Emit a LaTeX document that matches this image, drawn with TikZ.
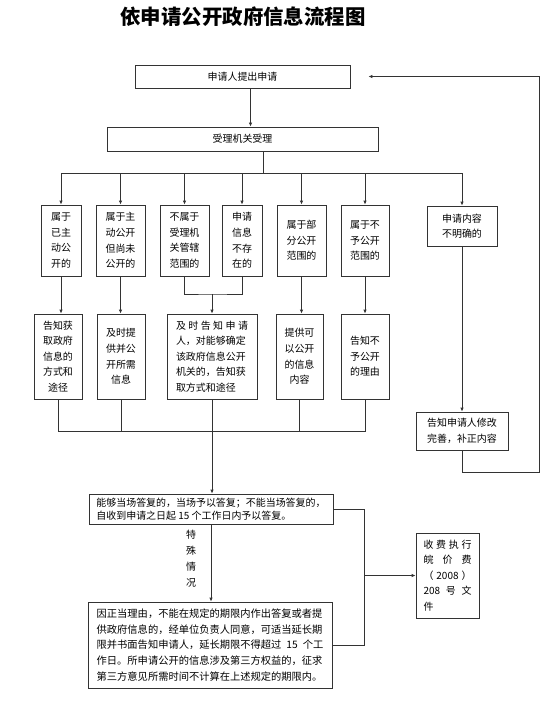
\documentclass[tikz,border=0pt]{standalone}
\usepackage{fontspec}
\setmainfont{Noto Sans CJK SC}
\usetikzlibrary{arrows.meta}
\tikzset{
  box/.style={draw=black!80, line width=0.8bp, inner sep=0pt, align=center,
    font=\fontsize{10}{15.6}\selectfont},
  rowone/.style={box, minimum height=71bp},
  rowtwo/.style={box, minimum height=85bp},
  conn/.style={line width=0.8bp, draw=black!80},
  arr/.style={-{Latex[length=4bp,width=3.5bp]}}
}
\begin{document}
\begin{tikzpicture}[x=1bp, y=-1bp]
  \useasboundingbox (0,0) rectangle (548,719);
  \node[font=\fontsize{20.5}{24}\selectfont\bfseries] (title) at (243,17) {依申请公开政府信息流程图};

  \node[box, minimum width=215bp, minimum height=23bp] (req) at (242.5,76.5) {申请人提出申请};
  \node[box, minimum width=271bp, minimum height=24bp] (acc) at (242.5,139) {受理机关受理};

  \node[rowone, minimum width=40bp] (B1) at (61,240.5) {属于\\已主\\动公\\开的};
  \node[rowone, minimum width=49bp] (B2) at (120.5,240.5) {属于主\\动公开\\但尚未\\公开的};
  \node[rowone, minimum width=49bp] (B3) at (184.5,240.5) {不属于\\受理机\\关管辖\\范围的};
  \node[rowone, minimum width=40bp] (B4) at (242,240.5) {申请\\信息\\不存\\在的};
  \node[rowone, minimum width=49bp] (B5) at (301.5,240.5) {属于部\\分公开\\范围的};
  \node[rowone, minimum width=48bp] (B6) at (365,240.5) {属于不\\予公开\\范围的};
  \node[box, minimum width=70bp, minimum height=40bp] (B7) at (462,226) {申请内容\\不明确的};

  \node[rowtwo, minimum width=48bp] (C1) at (58,356.5) {告知获\\取政府\\信息的\\方式和\\途径};
  \node[rowtwo, minimum width=48bp] (C2) at (121,356.5) {及时提\\供并公\\开所需\\信息};
  \node[rowtwo, minimum width=90bp, align=left] (C3) at (212,356.5)
    {\makebox[72bp]{及\hfill 时\hfill 告\hfill 知\hfill 申\hfill 请}\\人，对能够确定\\该政府信息公开\\机关的，告知获\\取方式和途径};
  \node[rowtwo, minimum width=47bp] (C4) at (299.5,356.5) {提供可\\以公开\\的信息\\内容};
  \node[rowtwo, minimum width=48bp] (C5) at (365,356.5) {告知不\\予公开\\的理由};
  \node[box, minimum width=92bp, minimum height=38bp] (C6) at (462,431) {告知申请人修改\\完善，补正内容};

  \node[box, minimum width=244bp, minimum height=30bp, align=left,
    font=\fontsize{10}{13.5}\selectfont] (D1) at (211,509)
    {能够当场答复的，当场予以答复；不能当场答复的，\\自收到申请之日起 15 个工作日内予以答复。};
  \node[box, minimum width=244bp, minimum height=86bp, align=left,
    font=\fontsize{10.3}{15.7}\selectfont] (D2) at (210,645)
    {因正当理由，不能在规定的期限内作出答复或者提\\
     供政府信息的，经单位负责人同意，可适当延长期\\
     \makebox[226.6bp][s]{限并书面告知申请人，延长期限不得超过 15 个工}\\
     作日。所申请公开的信息涉及第三方权益的，征求\\
     第三方意见所需时间不计算在上述规定的期限内。};
  \node[box, minimum width=63bp, minimum height=85bp, align=left] (E) at (447.5,575.5)
    {\makebox[48bp]{收\hfill 费\hfill 执\hfill 行}\\
     \makebox[48bp]{皖\hfill 价\hfill 费}\\
     \makebox[48bp]{（\hfill 2008\hfill ）}\\
     \makebox[48bp]{208\hfill 号\hfill 文}\\
     件};
  \node[font=\fontsize{10}{16}\selectfont, align=center] (special) at (191,559) {特\\殊\\情\\况};

  \coordinate (bus) at (0,173);
  \coordinate (join) at (0,294);
  \coordinate (collect) at (0,431);
  \coordinate (loop) at (539,472);
  \coordinate (side) at (364,0);

  \begin{scope}[conn]
    \draw[arr] ([xshift=8bp]req.south) -- ([xshift=8bp]req.south |- acc.north);
    \draw ([xshift=20.5bp]acc.south) -- ([xshift=20.5bp]acc.south |- bus);
    \draw (B1.north |- bus) -- (B7.north |- bus);
    \foreach \n in {B1,B2,B3,B4,B5,B6,B7}
      \draw[arr] (\n.north |- bus) -- (\n.north);
    \draw[arr] (B1.south) -- (B1.south |- C1.north);
    \draw[arr] (B2.south) -- (B2.south |- C2.north);
    \draw (B3.south) |- (C3.north |- join) -| (B4.south);
    \draw[arr] (C3.north |- join) -- (C3.north);
    \draw[arr] (B5.south) -- (B5.south |- C4.north);
    \draw[arr] (B6.south) -- (B6.south |- C5.north);
    \draw[arr] (B7.south) -- (C6.north);
    \draw (C1.south) |- (C5.south |- collect) -- (C5.south);
    \draw (C2.south) -- (C2.south |- collect);
    \draw (C4.south) -- (C4.south |- collect);
    \draw[arr] (C3.south) -- (C3.south |- D1.north);
    \draw[arr, shorten >=18bp] (C6.south) |- (loop) |- (req.east);
    \draw[arr] (D1.south) -- (D1.south |- D2.north);
    \draw (D1.east) -| (side |- D2.east) -- (D2.east);
    \draw[arr] (side |- E.west) -- (E.west);
  \end{scope}
\end{tikzpicture}
\end{document}
